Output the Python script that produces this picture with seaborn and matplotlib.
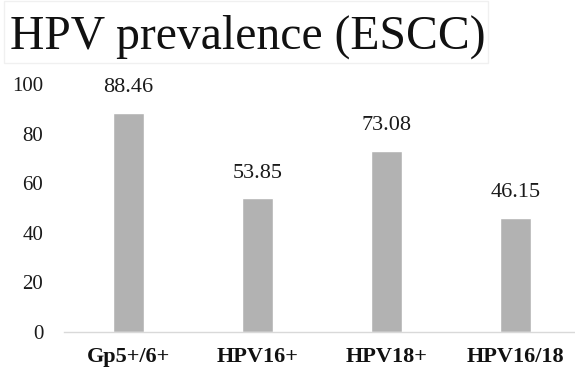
import matplotlib
matplotlib.use("Agg")
import matplotlib.pyplot as plt
from matplotlib.patches import Rectangle
import seaborn as sns
import pandas as pd

# values
categories = ["Gp5+/6+", "HPV16+", "HPV18+", "HPV16/18"]
prevalence = [88.46, 53.85, 73.08, 46.15]
y_ticks = [0, 20, 40, 60, 80, 100]

df = pd.DataFrame({"Marker": categories, "Prevalence": prevalence})

sns.set_style("white")
plt.rcParams["font.family"] = ["Liberation Serif", "DejaVu Serif"]

fig = plt.figure(figsize=(5.75, 3.72), dpi=100)
# axes spans 64..580 px horizontally, 0 at y=332, 100 at y=84
ax = fig.add_axes([64 / 575, 40 / 372, 516 / 575, 248 / 372])

sns.barplot(data=df, x="Marker", y="Prevalence", color="#b2b2b2",
            width=0.24, saturation=1, ax=ax)

ax.set_ylim(0, 100)
ax.set_xlim(-0.5, 3.5)
ax.set_yticks(y_ticks)
ax.set_xlabel("")
ax.set_ylabel("")

for s in ["top", "right", "left"]:
    ax.spines[s].set_visible(False)
ax.spines["bottom"].set_color("#d9d9d9")
ax.spines["bottom"].set_linewidth(1.0)

ax.tick_params(axis="y", length=0, pad=15, labelsize=15, colors="#1a1a1a")
ax.tick_params(axis="x", which="major", length=0, pad=11)
ax.set_xticks([-0.5, 0.5, 1.5, 2.5, 3.5], minor=True)
ax.tick_params(axis="x", which="minor", length=4, color="#d9d9d9", direction="out")
for lbl in ax.get_xticklabels():
    lbl.set_fontweight("bold")
    lbl.set_fontsize(16)
    lbl.set_color("#111111")

ax.bar_label(ax.containers[0], labels=[f"{v:.2f}" for v in prevalence],
             padding=11, fontsize=16, color="#1a1a1a")

# title with its faint frame
fig.add_artist(Rectangle((4 / 575, 1 - 63 / 372), 484 / 575, 62 / 372,
                         transform=fig.transFigure, fill=False,
                         edgecolor="#f0f0f0", linewidth=1))
fig.text(10 / 575, 1 - 49 / 372, "HPV prevalence (ESCC)", fontsize=34.3,
         va="baseline", ha="left", color="#111111")

fig.savefig("out.png", dpi=100)
